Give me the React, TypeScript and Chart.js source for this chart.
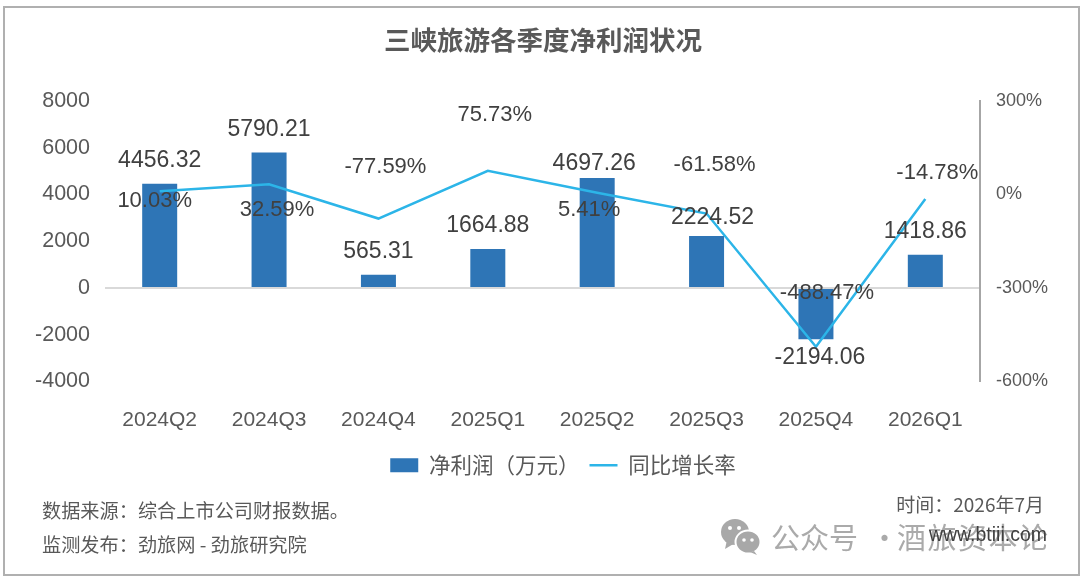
import React, { useEffect, useRef } from 'react';
import { Chart, registerables } from 'chart.js';

Chart.register(...registerables);

const categories = ['2024Q2', '2024Q3', '2024Q4', '2025Q1', '2025Q2', '2025Q3', '2025Q4', '2026Q1'];
const netProfit = [4456.32, 5790.21, 565.31, 1664.88, 4697.26, 2224.52, -2194.06, 1418.86];
const growthRate = [10.03, 32.59, -77.59, 75.73, 5.41, -61.58, -488.47, -14.78];

// hand-placed label nudges, the source chart has them moved around
const profitLabelOffsets = [[0, -23], [0, -23], [0, -23], [0, -23], [-3, -14], [6, -18], [4, 18], [0, -23]];
const growthLabelOffsets = [[-5, 10], [8, 26], [7, -52], [7, -56], [-8, 17], [8, -49], [11, -54], [12, -26]];

const latin = '"Liberation Sans", "Noto Sans CJK SC", sans-serif';
const cjk = '"Noto Sans CJK SC", "Liberation Sans", sans-serif';
const legendStyles = ['rect', 'line'];

const dataLabels = {
  id: 'dataLabels',
  afterDatasetsDraw(chart: any) {
    const { ctx } = chart;
    ctx.save();
    ctx.textAlign = 'center';
    ctx.textBaseline = 'middle';
    ctx.fillStyle = '#404040';
    ctx.font = `23px ${latin}`;
    chart.getDatasetMeta(0).data.forEach((el: any, i: number) => {
      const [dx, dy] = profitLabelOffsets[i];
      ctx.fillText(netProfit[i].toFixed(2), el.x + dx, el.y + dy);
    });
    ctx.font = `22px ${latin}`;
    chart.getDatasetMeta(1).data.forEach((el: any, i: number) => {
      const [dx, dy] = growthLabelOffsets[i];
      ctx.fillText(`${growthRate[i].toFixed(2)}%`, el.x + dx, el.y + dy);
    });
    ctx.restore();
  },
};

// legend sits right of centre in the source
const shiftLegend = {
  id: 'shiftLegend',
  afterLayout(chart: any) {
    chart.legend.left += 20;
    chart.legend.right += 20;
  },
};

const noteStyle: React.CSSProperties = {
  position: 'absolute',
  fontFamily: cjk,
  color: '#595959',
  whiteSpace: 'nowrap',
  lineHeight: 1,
};

export default function App() {
  const chartRef = useRef<HTMLCanvasElement>(null);

  useEffect(() => {
    if (!chartRef.current) return;
    const chart = new Chart(chartRef.current, {
      type: 'bar',
      data: {
        labels: categories,
        datasets: [
          {
            type: 'bar',
            label: '净利润（万元）',
            data: netProfit,
            backgroundColor: '#2e75b6',
            yAxisID: 'y',
            barPercentage: 1,
            categoryPercentage: 0.32,
            order: 2,
          },
          {
            type: 'line',
            label: '同比增长率',
            data: growthRate,
            borderColor: '#2cb5e8',
            backgroundColor: '#2cb5e8',
            borderWidth: 2.5,
            pointRadius: 0,
            tension: 0,
            yAxisID: 'y1',
            order: 1,
          },
        ],
      },
      options: {
        responsive: false,
        animation: false,
        layout: { padding: { left: 6, right: 0, top: 24, bottom: 93 } },
        plugins: {
          title: {
            display: true,
            text: '三峡旅游各季度净利润状况',
            color: '#595959',
            font: { family: cjk, size: 26.5, weight: 'bold' },
            padding: { top: 0, bottom: 45 },
          },
          legend: {
            position: 'bottom',
            labels: {
              color: '#595959',
              font: { family: cjk, size: 21.5 },
              usePointStyle: true,
              pointStyleWidth: 28,
              boxHeight: 14,
              padding: 10,
              sort: (a: any, b: any) => a.datasetIndex - b.datasetIndex,
              generateLabels(c: any) {
                return Chart.defaults.plugins.legend.labels.generateLabels(c).map((item: any) => ({
                  ...item,
                  pointStyle: legendStyles[item.datasetIndex],
                }));
              },
            },
          },
          tooltip: { enabled: false },
        },
        scales: {
          x: {
            grid: { display: false },
            border: { display: false },
            ticks: { color: '#595959', font: { family: latin, size: 21 }, padding: 18, maxRotation: 0 },
            afterFit(axis: any) {
              axis.height = 63;
            },
          },
          y: {
            min: -4000,
            max: 8000,
            grid: {
              drawTicks: false,
              color: (ctx: any) => (ctx.tick.value === 0 ? '#d9d9d9' : 'transparent'),
              lineWidth: 2,
            },
            border: { display: false },
            ticks: {
              stepSize: 2000,
              color: '#595959',
              font: { family: latin, size: 21.5 },
              padding: 15,
              callback: (v: any) => `${v}`,
            },
            afterFit(axis: any) {
              axis.width = 99;
            },
          },
          y1: {
            position: 'right',
            min: -600,
            max: 300,
            grid: { display: false, drawTicks: false },
            border: { display: true, color: '#a6a6a6', width: 2 },
            ticks: {
              stepSize: 300,
              color: '#595959',
              font: { family: latin, size: 18 },
              padding: 16,
              callback: (v: any) => `${v}%`,
            },
            afterFit(axis: any) {
              axis.width = 100;
            },
          },
        },
      },
      plugins: [dataLabels, shiftLegend],
    } as any);
    return () => chart.destroy();
  }, []);

  return (
    <div style={{ position: 'absolute', left: 0, top: 0, width: 1080, height: 579, background: '#fff', overflow: 'hidden' }}>
      <canvas ref={chartRef} width={1080} height={579} style={{ position: 'absolute', left: 0, top: 0 }} />
      <div style={{ position: 'absolute', left: 3, top: 6, width: 1073, height: 566, border: '2px solid #b0b0b0', pointerEvents: 'none' }} />
      <div style={{ ...noteStyle, left: 42, top: 501, fontSize: 19.2 }}>数据来源：综合上市公司财报数据。</div>
      <div style={{ ...noteStyle, left: 42, top: 535, fontSize: 19.2 }}>监测发布：劲旅网 - 劲旅研究院</div>
      <div style={{ ...noteStyle, right: 36, top: 494, fontSize: 19 }}>时间：2026年7月</div>
      <svg width="42" height="38" viewBox="0 0 42 38" style={{ position: 'absolute', left: 720, top: 518 }}>
        <ellipse cx="15" cy="14" rx="14" ry="13" fill="#a8a8a8" />
        <path d="M7 22 L5 31 L15 25 Z" fill="#a8a8a8" />
        <ellipse cx="28" cy="24" rx="12.5" ry="11.5" fill="#a8a8a8" stroke="#fff" strokeWidth="2" />
        <path d="M34 33 L37 37 L30 34 Z" fill="#a8a8a8" />
        <circle cx="10" cy="10" r="2" fill="#fff" />
        <circle cx="19" cy="10" r="2" fill="#fff" />
        <circle cx="24" cy="22" r="1.8" fill="#fff" />
        <circle cx="32" cy="22" r="1.8" fill="#fff" />
      </svg>
      <div style={{ ...noteStyle, left: 771, top: 522, fontSize: 29, color: '#aaaaaa' }}>公众号</div>
      <div style={{ ...noteStyle, left: 870, top: 522, fontSize: 29, color: '#aaaaaa' }}>·</div>
      <div style={{ ...noteStyle, left: 897, top: 522, fontSize: 29, color: '#aaaaaa', letterSpacing: 1.5 }}>酒旅资本论</div>
      <div style={{ ...noteStyle, right: 33, top: 525, fontSize: 19.5, fontFamily: latin, color: '#404040' }}>www.btiii.com</div>
    </div>
  );
}
